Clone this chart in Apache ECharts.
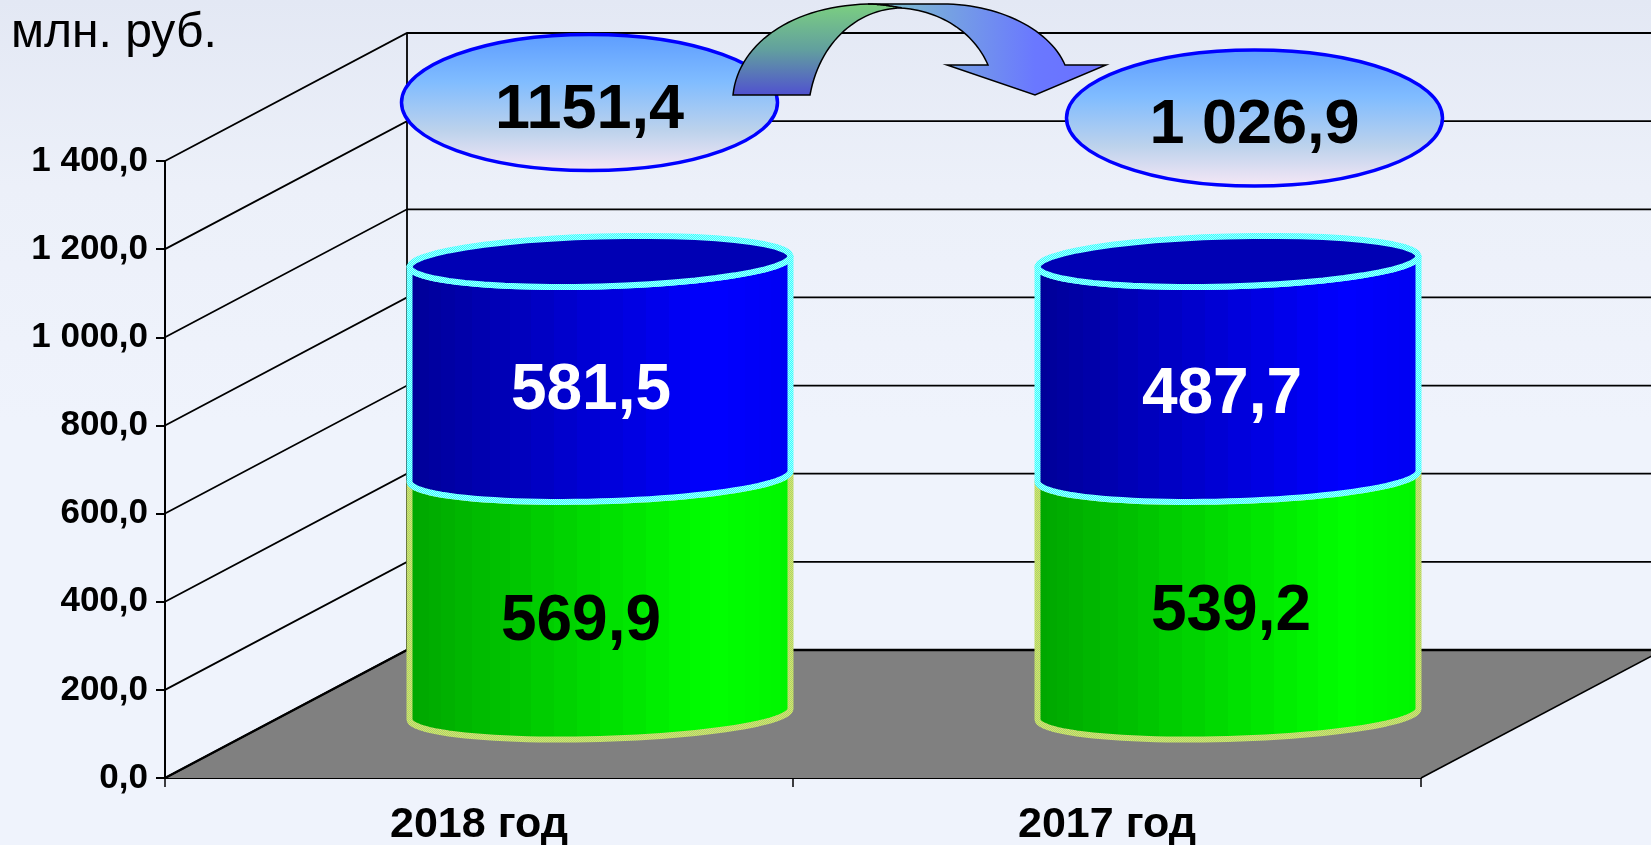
<!DOCTYPE html>
<html>
<head>
<meta charset="utf-8">
<title>млн. руб.</title>
<style>
  html, body { margin: 0; padding: 0; background: #eef2fb; }
  #chart { width: 1651px; height: 845px; }
</style>
<script src="https://cdn.jsdelivr.net/npm/echarts@6/dist/echarts.min.js"></script>
</head>
<body>
<div id="chart"></div>
<script>
const categories = ['2018 год', '2017 год']
const yTicks = [0, 200, 400, 600, 800, 1000, 1200, 1400]
const yTickLabels = ['0,0', '200,0', '400,0', '600,0', '800,0', '1 000,0', '1 200,0', '1 400,0']

// высота цилиндров как нарисована на картинке (оба столбца одинаковые, подписи у 2018 другие)
const lowerValues = [539.2, 539.2]
const upperValues = [487.7, 487.7]
// подписи как на картинке
const lowerLabels = ['569,9', '539,2']
const upperLabels = ['581,5', '487,7']
const totalLabels = ['1151,4', '1 026,9']
const unitLabel = 'млн. руб.'

const FONT = '"Liberation Sans", Arial, sans-serif'
// сдвиг задней стенки псевдо-3D
const DEPTH_X = 242
const DEPTH_Y = -128
const RIM_A = 190.5 // полуось эллипса
const RIM_B = 25
const RIM_TILT = -0.028

const chart = echarts.init(document.getElementById('chart'))

// клетчатая обводка как на исходной картинке
const checker = (a, b) => {
  const c = document.createElement('canvas')
  c.width = 2
  c.height = 2
  const ctx = c.getContext('2d')
  ctx.fillStyle = a
  ctx.fillRect(0, 0, 2, 2)
  ctx.fillStyle = b
  ctx.fillRect(0, 0, 1, 1)
  ctx.fillRect(1, 1, 1, 1)
  return { image: c, repeat: 'repeat' }
}
const cyanRim = checker('#33ffff', '#a6ffff')
const greenRim = checker('#d8f060', '#a8c878')

// полосы цилиндра: узкие к краям, свет справа
const facetGradient = (r0, g0, b0, r1, g1, b1) => {
  const n = 26
  const stops = []
  for (let i = 0; i < n; i++) {
    const from = (1 - Math.cos(Math.PI * i / n)) / 2
    const to = (1 - Math.cos(Math.PI * (i + 1) / n)) / 2
    const mid = (from + to) / 2
    const k = mid < 0.8 ? mid / 0.8 : 1 - (mid - 0.8) / 0.2 * 0.12
    const col = 'rgb(' + Math.round(r0 + (r1 - r0) * k) + ',' + Math.round(g0 + (g1 - g0) * k) + ',' + Math.round(b0 + (b1 - b0) * k) + ')'
    stops.push({ offset: from, color: col }, { offset: to, color: col })
  }
  return new echarts.graphic.LinearGradient(0, 0, 1, 0, stops)
}

const rimPoints = (cx, cy, fromT, toT) => {
  const pts = []
  const n = 48
  for (let i = 0; i <= n; i++) {
    const t = fromT + (toT - fromT) * i / n
    const dx = RIM_A * Math.cos(t)
    pts.push([cx + dx, cy + RIM_B * Math.sin(t) + RIM_TILT * dx])
  }
  return pts
}

// тело цилиндра от start до end, центр стоит на середине глубины пола
const renderBody = (fill, stroke, top) => (params, api) => {
  const p0 = api.coord([api.value(0), api.value(1)])
  const p1 = api.coord([api.value(0), api.value(2)])
  const cx = p0[0] + DEPTH_X / 2
  const yBottom = p0[1] + DEPTH_Y / 2
  const yTop = p1[1] + DEPTH_Y / 2
  const front = rimPoints(cx, yBottom, 0, Math.PI)
  const back = rimPoints(cx, yTop, Math.PI, 0)
  const children = [{
    type: 'polygon',
    shape: { points: back.concat(front) },
    style: { fill: fill, stroke: stroke, lineWidth: 6, lineJoin: 'round' }
  }]
  if (top) {
    children.push({
      type: 'polygon',
      shape: { points: rimPoints(cx, yTop, 0, Math.PI * 2) },
      style: { fill: '#0000b4', stroke: stroke, lineWidth: 6, lineJoin: 'round' }
    })
  }
  return { type: 'group', children: children }
}

// подписи внутри цилиндров, сдвиг от центра сегмента
const renderSegmentLabel = (texts, color, offsets) => (params, api) => {
  const i = params.dataIndex
  const p0 = api.coord([api.value(0), api.value(1)])
  const p1 = api.coord([api.value(0), api.value(2)])
  return {
    type: 'text',
    x: p0[0] + DEPTH_X / 2 + offsets[i][0],
    y: (p0[1] + p1[1]) / 2 + DEPTH_Y / 2 + offsets[i][1],
    style: {
      text: texts[i],
      fill: color,
      font: 'bold 64px ' + FONT,
      align: 'center',
      verticalAlign: 'middle'
    }
  }
}

const lowerData = categories.map((c, i) => [i, 0, lowerValues[i]])
const upperData = categories.map((c, i) => [i, lowerValues[i], lowerValues[i] + upperValues[i]])

const bubbleFill = () => new echarts.graphic.LinearGradient(0, 0, 0, 1, [
  { offset: 0, color: '#5c9cff' },
  { offset: 0.35, color: '#80bcff' },
  { offset: 0.7, color: '#bcd2ec' },
  { offset: 1, color: '#f8e8f6' }
])

const bubble = (cx, cy, text) => ({
  type: 'group',
  children: [{
    type: 'ellipse',
    z: 50,
    shape: { cx: cx, cy: cy, rx: 188, ry: 68 },
    style: { fill: bubbleFill(), stroke: '#0000ff', lineWidth: 3.5 }
  }, {
    type: 'text',
    z: 51,
    x: cx,
    y: cy + 8,
    style: { text: text, fill: '#000', font: 'bold 63px ' + FONT, align: 'center', verticalAlign: 'middle' }
  }]
})

// кривая Безье для контура стрелки
const bez = (p0, p1, p2, p3) => {
  const pts = []
  for (let i = 0; i <= 30; i++) {
    const t = i / 30
    const u = 1 - t
    pts.push([
      u * u * u * p0[0] + 3 * u * u * t * p1[0] + 3 * u * t * t * p2[0] + t * t * t * p3[0],
      u * u * u * p0[1] + 3 * u * u * t * p1[1] + 3 * u * t * t * p2[1] + t * t * t * p3[1]
    ])
  }
  return pts
}

const arrowLeft = [].concat(
  bez([733, 95], [738, 45], [790, 6], [868, 4]),
  bez([868, 4], [880, 4], [892, 6], [902, 8]),
  bez([902, 8], [860, 8], [820, 40], [810, 95])
)
const arrowRight = [].concat(
  [[868, 4], [942, 4]],
  bez([942, 4], [1000, 4], [1050, 30], [1065, 65]),
  [[1106, 65], [1035, 95], [947, 65], [988, 65]],
  bez([988, 65], [975, 35], [945, 12], [902, 8]),
  bez([902, 8], [892, 6], [880, 4], [868, 4])
)

const options = {
  animation: false,
  backgroundColor: new echarts.graphic.LinearGradient(0, 0, 0, 1, [
    { offset: 0, color: '#e3e8f4' },
    { offset: 0.22, color: '#ecf0f9' },
    { offset: 0.5, color: '#eff3fc' },
    { offset: 1, color: '#eff3fc' }
  ]),
  grid: { left: 165, right: 230, top: 161, bottom: 67, outerBoundsMode: 'none' },
  xAxis: {
    type: 'category',
    data: categories,
    axisLine: { show: true, lineStyle: { color: '#000', width: 2 } },
    axisTick: { show: true, length: 9, lineStyle: { color: '#000', width: 1.5 } },
    axisLabel: { margin: 26, color: '#000', fontFamily: FONT, fontWeight: 'bold', fontSize: 43 }
  },
  yAxis: {
    type: 'value',
    min: 0,
    max: 1400,
    interval: 200,
    splitLine: { show: false },
    axisLine: { show: true, lineStyle: { color: '#000', width: 2 } },
    axisTick: { show: true, length: 9, lineStyle: { color: '#000', width: 2 } },
    axisLabel: {
      margin: 17,
      color: '#000',
      fontFamily: FONT,
      fontWeight: 'bold',
      fontSize: 35,
      formatter: (v) => yTickLabels[yTicks.indexOf(v)]
    }
  },
  series: [
    // пол
    {
      type: 'custom',
      z: 1,
      silent: true,
      clip: false,
      data: [[0]],
      renderItem: (params, api) => {
        const a = api.coord([0, 0])
        const left = params.coordSys.x
        const right = left + params.coordSys.width
        const y = a[1]
        return {
          type: 'group',
          children: [{
            type: 'polygon',
            shape: { points: [[left, y], [left + DEPTH_X, y + DEPTH_Y], [right + DEPTH_X, y + DEPTH_Y], [right, y]] },
            style: { fill: '#808080' }
          }, {
            type: 'line',
            shape: { x1: left, y1: y, x2: left + DEPTH_X, y2: y + DEPTH_Y },
            style: { stroke: '#000', lineWidth: 2.5 }
          }, {
            type: 'line',
            shape: { x1: right, y1: y, x2: right + DEPTH_X, y2: y + DEPTH_Y },
            style: { stroke: '#000', lineWidth: 1.5 }
          }, {
            type: 'line',
            shape: { x1: left + DEPTH_X, y1: y + DEPTH_Y, x2: right + DEPTH_X, y2: y + DEPTH_Y },
            style: { stroke: '#000', lineWidth: 2.5 }
          }]
        }
      }
    },
    // сетка на боковой и задней стенке
    {
      type: 'custom',
      z: 2,
      silent: true,
      clip: false,
      data: yTicks.map((v) => [0, v]),
      renderItem: (params, api) => {
        const p = api.coord([0, api.value(1)])
        const left = params.coordSys.x
        const right = left + params.coordSys.width
        const y = p[1]
        const children = [{
          type: 'polyline',
          shape: { points: [[left, y], [left + DEPTH_X, y + DEPTH_Y], [right + DEPTH_X, y + DEPTH_Y]] },
          style: { stroke: '#000', lineWidth: 1.8, fill: null }
        }]
        if (api.value(1) === yTicks[yTicks.length - 1]) {
          const bottom = api.coord([0, 0])[1]
          children.push({
            type: 'line',
            shape: { x1: left + DEPTH_X, y1: y + DEPTH_Y, x2: left + DEPTH_X, y2: bottom + DEPTH_Y },
            style: { stroke: '#000', lineWidth: 1.8 }
          })
        }
        return { type: 'group', children: children }
      }
    },
    {
      type: 'custom',
      name: 'lower',
      z: 10,
      clip: false,
      encode: { x: 0, y: [1, 2] },
      data: lowerData,
      renderItem: renderBody(facetGradient(0, 165, 0, 0, 255, 0), greenRim, false)
    },
    {
      type: 'custom',
      name: 'upper',
      z: 11,
      clip: false,
      encode: { x: 0, y: [1, 2] },
      data: upperData,
      renderItem: renderBody(facetGradient(0, 0, 150, 0, 0, 255), cyanRim, true)
    },
    {
      type: 'custom',
      z: 12,
      silent: true,
      clip: false,
      encode: { x: 0, y: [1, 2] },
      data: lowerData,
      renderItem: renderSegmentLabel(lowerLabels, '#000', [[-19, 27], [3, 17]])
    },
    {
      type: 'custom',
      z: 12,
      silent: true,
      clip: false,
      encode: { x: 0, y: [1, 2] },
      data: upperData,
      renderItem: renderSegmentLabel(upperLabels, '#fff', [[-9, 22], [-6, 26]])
    }
  ],
  graphic: {
    elements: [
      {
        type: 'text',
        x: 11,
        y: 34,
        z: 60,
        style: { text: unitLabel, fill: '#000', font: '48px ' + FONT, verticalAlign: 'middle' }
      },
      bubble(589.5, 102.5, totalLabels[0]),
      bubble(1254.5, 118, totalLabels[1]),
      // изогнутая стрелка между овалами
      {
        type: 'polygon',
        z: 55,
        shape: { points: arrowLeft },
        style: {
          fill: new echarts.graphic.LinearGradient(0, 0, 0, 1, [
            { offset: 0, color: '#7cd080' },
            { offset: 0.5, color: '#62a09e' },
            { offset: 1, color: '#5050d0' }
          ]),
          stroke: '#000',
          lineWidth: 1.5
        }
      },
      {
        type: 'polygon',
        z: 56,
        shape: { points: arrowRight },
        style: {
          fill: new echarts.graphic.LinearGradient(0, 0, 1, 0, [
            { offset: 0, color: '#80c8c8' },
            { offset: 0.7, color: '#6a78ff' },
            { offset: 1, color: '#6a70ff' }
          ]),
          stroke: '#000',
          lineWidth: 1.5
        }
      }
    ]
  }
}

chart.setOption(options)
</script>
</body>
</html>
